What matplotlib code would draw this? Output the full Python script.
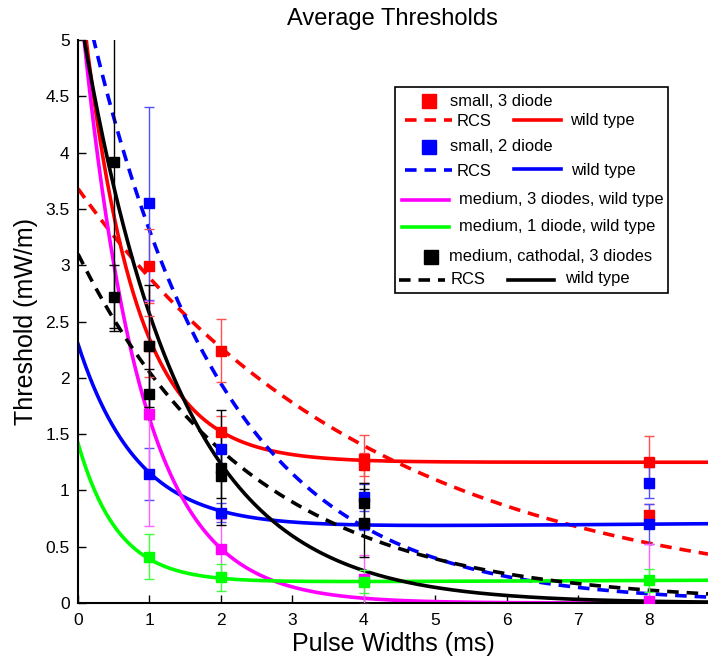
import numpy as np
import matplotlib
matplotlib.use('Agg')
from matplotlib import pyplot as plt
from matplotlib.lines import Line2D
from matplotlib.patches import Rectangle

plt.rcParams['font.family'] = ['Liberation Sans', 'DejaVu Sans']

## fitted curves: y = c + b*exp(-x/tau) + d*x
curve_names = ['red_rcs', 'red_wt', 'blue_rcs', 'blue_wt', 'magenta_wt', 'green_wt', 'black_rcs', 'black_wt']
curve_c   = [0.0, 1.25, 0.0, 0.66, 0.0, 0.18, 0.0, 0.0]
curve_b   = [3.68, 4.40, 5.62, 1.64, 5.55, 1.24, 3.10, 5.33]
curve_tau = [4.13, 0.72, 1.89, 0.83, 0.82, 0.56, 2.42, 1.37]
curve_d   = [0.0, 0.0, 0.0, 0.005, 0.0, 0.0025, 0.0, 0.0]

## measured points (x, mean, error)
red_x   = [1, 1, 2, 2, 4, 4, 8, 8]
red_y   = [2.99, 2.28, 2.24, 1.52, 1.28, 1.23, 1.25, 0.78]
red_e   = [0.33, 0.27, 0.28, 0.14, 0.21, 0.10, 0.23, 0.10]
blue_x  = [1, 1, 2, 2, 4, 4, 8, 8]
blue_y  = [3.55, 1.145, 1.37, 0.80, 0.94, 0.70, 1.07, 0.70]
blue_e  = [0.855, 0.23, 0.18, 0.085, 0.12, 0.05, 0.14, 0.18]
mag_x   = [1, 2, 4, 8]
mag_y   = [1.68, 0.48, 0.21, 0.02]
mag_e   = [1.0, 0.27, 0.22, 0.5]
green_x = [1, 2, 4, 8]
green_y = [0.41, 0.23, 0.19, 0.20]
green_e = [0.20, 0.12, 0.10, 0.10]
black_x = [0.5, 0.5, 1, 1, 2, 2, 4, 4]
black_y = [3.92, 2.72, 2.28, 1.855, 1.20, 1.13, 0.89, 0.71]
black_e = [1.50, 0.28, 0.54, 0.225, 0.51, 0.20, 0.18, 0.30]

x_ticks = [0, 1, 2, 3, 4, 5, 6, 7, 8]
y_ticks = [0, 0.5, 1, 1.5, 2, 2.5, 3, 3.5, 4, 4.5, 5]
y_ticklabels = ['0', '0.5', '1', '1.5', '2', '2.5', '3', '3.5', '4', '4.5', '5']

W, H = 708, 658
fig = plt.figure(figsize=(W/100, H/100), dpi=100)
ax = fig.add_axes([78/W, 1-603/H, (708-78)/W, (603-40)/H])

styles = {
    'red_rcs': ('#ff0000', (0, (3.2, 2.2))),
    'red_wt': ('#ff0000', '-'),
    'blue_rcs': ('#0000ff', (0, (3.2, 2.2))),
    'blue_wt': ('#0000ff', '-'),
    'magenta_wt': ('#ff00ff', '-'),
    'green_wt': ('#00ff00', '-'),
    'black_rcs': ('#000000', (0, (3.2, 2.2))),
    'black_wt': ('#000000', '-'),
}

xs = np.linspace(0, 8.82, 500)
for name, c, b, tau, d in zip(curve_names, curve_c, curve_b, curve_tau, curve_d):
    col, ls = styles[name]
    ax.plot(xs, c + b*np.exp(-xs/tau) + d*xs, color=col, ls=ls, lw=2.6, zorder=2)

for x, y, e, col, ecol in [(red_x, red_y, red_e, '#ff0000', '#ff5050'),
                           (blue_x, blue_y, blue_e, '#0000ff', '#5050ff'),
                           (mag_x, mag_y, mag_e, '#ff00ff', '#ff60ff'),
                           (green_x, green_y, green_e, '#00ff00', '#40ff40'),
                           (black_x, black_y, black_e, '#000000', '#000000')]:
    ax.errorbar(x, y, yerr=e, fmt='s', color=col, ecolor=ecol, elinewidth=1,
                capsize=3.5, capthick=1, ms=6.5, mec=col, mfc=col, zorder=3)

ax.set_xlim(0, 8.82)
ax.set_ylim(0, 5)
ax.set_xticks(x_ticks)
ax.set_yticks(y_ticks)
ax.set_yticklabels(y_ticklabels)
ax.tick_params(direction='in', length=6, width=1, labelsize=12.5)
ax.tick_params(axis='x', pad=7)
ax.tick_params(axis='y', pad=6)
for s in ['top', 'right']:
    ax.spines[s].set_visible(False)
for s in ['left', 'bottom']:
    ax.spines[s].set_linewidth(1.5)
ax.set_xlabel('Pulse Widths (ms)', fontsize=18, labelpad=3)
ax.set_ylabel('Threshold (mW/m)', fontsize=18, labelpad=5)
fig.text(392/W, 1-19/H, 'Average Thresholds', fontsize=17, ha='center', va='center')

# legend drawn by hand (pixel positions)
def fx(px): return px/W
def fy(py): return 1-py/H

fig.add_artist(Rectangle((fx(395), fy(293)), fx(668)-fx(395), fy(87)-fy(293),
                         transform=fig.transFigure, fill=True, fc='white', ec='black', lw=1.2, zorder=5))
dash = (0, (3.2, 2.2))
def seg(x0, x1, y, col, ls):
    fig.add_artist(Line2D([fx(x0), fx(x1)], [fy(y), fy(y)], transform=fig.transFigure,
                          color=col, ls=ls, lw=2.6, zorder=6))
def sq(x, y, col):
    fig.add_artist(Line2D([fx(x)], [fy(y)], transform=fig.transFigure, marker='s',
                          ms=10, color=col, ls='none', zorder=6))
def txt(x, y, s):
    fig.text(fx(x), fy(y), s, fontsize=11.9, ha='left', va='center', zorder=7)

sq(429, 101, '#ff0000'); txt(450, 101, 'small, 3 diode')
seg(405, 452, 120, '#ff0000', dash); txt(457, 121, 'RCS')
seg(514, 561, 120, '#ff0000', '-'); txt(570, 120, 'wild type')
sq(429, 147, '#0000ff'); txt(450, 147, 'small, 2 diode')
seg(405, 452, 170, '#0000ff', dash); txt(457, 171, 'RCS')
seg(514, 561, 169, '#0000ff', '-'); txt(571, 170, 'wild type')
seg(402, 449, 200, '#ff00ff', '-'); txt(459, 200, 'medium, 3 diodes, wild type')
seg(402, 449, 227, '#00ff00', '-'); txt(459, 226, 'medium, 1 diode, wild type')
sq(431, 257, '#000000'); txt(449, 256, 'medium, cathodal, 3 diodes')
seg(399, 445, 280, '#000000', dash); txt(451, 280, 'RCS')
seg(508, 554, 280, '#000000', '-'); txt(565, 279, 'wild type')

fig.savefig('out.png', dpi=100)
